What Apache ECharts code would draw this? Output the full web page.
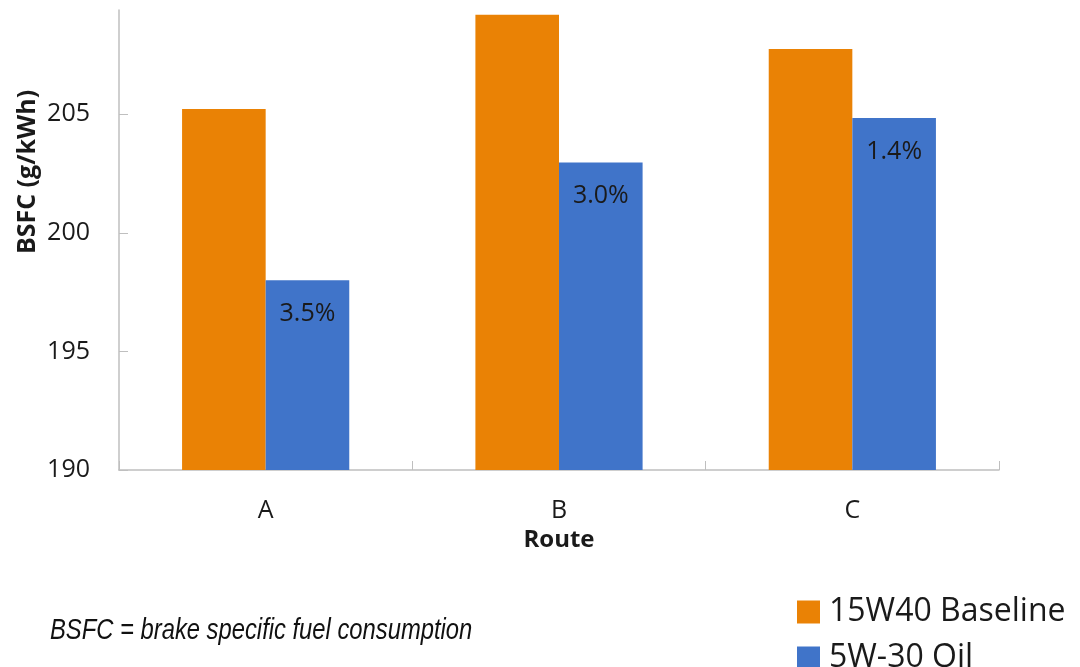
<!DOCTYPE html>
<html>
<head>
<meta charset="utf-8">
<title>BSFC by Route</title>
<script src="https://cdn.jsdelivr.net/npm/echarts@6/dist/echarts.min.js"></script>
<style>
  html, body { margin: 0; padding: 0; background: #ffffff; }
  #chart { width: 1080px; height: 667px; }
</style>
</head>
<body>
<div id="chart"></div>
<script>
// Routes on the x axis
const routes = ['A', 'B', 'C'];
// Brake specific fuel consumption, g/kWh
const baseline15W40 = [205.23, 209.2, 207.75];
const oil5W30 = [198.0, 202.97, 204.84];
// Improvement printed on each 5W-30 bar
const improvementLabels = ['3.5%', '3.0%', '1.4%'];
// Value-axis ticks
const yTicks = [190, 195, 200, 205];
// Legend entries, one per row
const seriesNames = ['15W40 Baseline', '5W-30 Oil'];

const ORANGE = '#EA8205';
const BLUE = '#4074C9';
const AXIS_GREY = '#BFBFBF';
const TEXT = '#1A1A1A';
const FONT = '"Open Sans", "DejaVu Sans", sans-serif';

const chart = echarts.init(document.getElementById('chart'), null, { renderer: 'canvas' });

// one legend block per row so both rows fit at the bottom edge
const legendRow = (name, top) => ({
  orient: 'horizontal',
  left: 797,
  top: top,
  padding: 0,
  itemWidth: 23,
  itemHeight: 23,
  icon: 'rect',
  textStyle: { fontFamily: FONT, fontSize: 32, lineHeight: 23, color: TEXT, padding: [0, 0, 0, 4] },
  data: [name]
});

chart.setOption({
  animation: false,
  backgroundColor: '#ffffff',
  textStyle: { fontFamily: FONT },
  grid: { left: 119, right: 81, top: 10, bottom: 197, containLabel: false },
  legend: [legendRow(seriesNames[0], 596), legendRow(seriesNames[1], 642)],
  xAxis: {
    type: 'category',
    data: routes,
    name: 'Route',
    nameLocation: 'middle',
    nameGap: 56,
    nameTextStyle: { fontFamily: FONT, fontSize: 24, fontWeight: 'bold', color: TEXT },
    axisLine: { lineStyle: { color: AXIS_GREY, width: 1.5 } },
    axisTick: { show: true, inside: true, length: 9, lineStyle: { color: AXIS_GREY } },
    axisLabel: { fontFamily: FONT, fontSize: 25, color: TEXT, margin: 28 },
    splitLine: { show: false }
  },
  yAxis: {
    type: 'value',
    min: 190,
    max: 209.4,
    interval: 5,
    axisLine: { show: true, lineStyle: { color: AXIS_GREY, width: 1.5 } },
    axisTick: { show: true, inside: true, length: 9, lineStyle: { color: AXIS_GREY }, customValues: yTicks },
    axisLabel: { fontFamily: FONT, fontSize: 25, color: TEXT, margin: 29, customValues: yTicks },
    splitLine: { show: false }
  },
  series: [
    {
      name: seriesNames[0],
      type: 'bar',
      data: baseline15W40,
      itemStyle: { color: ORANGE },
      barGap: '0%',
      barCategoryGap: '43%'
    },
    {
      name: seriesNames[1],
      type: 'bar',
      data: oil5W30,
      itemStyle: { color: BLUE },
      barGap: '0%',
      barCategoryGap: '43%',
      label: {
        show: true,
        position: 'insideTop',
        distance: 21,
        fontFamily: FONT,
        fontSize: 25,
        color: TEXT,
        formatter: p => improvementLabels[p.dataIndex]
      }
    }
  ],
  graphic: [
    {
      type: 'text',
      x: 28,
      y: 172,
      rotation: Math.PI / 2,
      style: {
        text: 'BSFC (g/kWh)',
        fontFamily: FONT,
        fontSize: 25,
        fontWeight: 'bold',
        fill: TEXT,
        align: 'center',
        verticalAlign: 'middle'
      }
    },
    {
      // condensed italic footnote
      type: 'text',
      x: 50,
      y: 631,
      scaleX: 0.82,
      style: {
        text: 'BSFC = brake specific fuel consumption',
        fontFamily: '"Liberation Sans", Arial, sans-serif',
        fontSize: 29,
        fontStyle: 'italic',
        fill: '#111111',
        align: 'left',
        verticalAlign: 'middle'
      }
    }
  ]
});
</script>
</body>
</html>
